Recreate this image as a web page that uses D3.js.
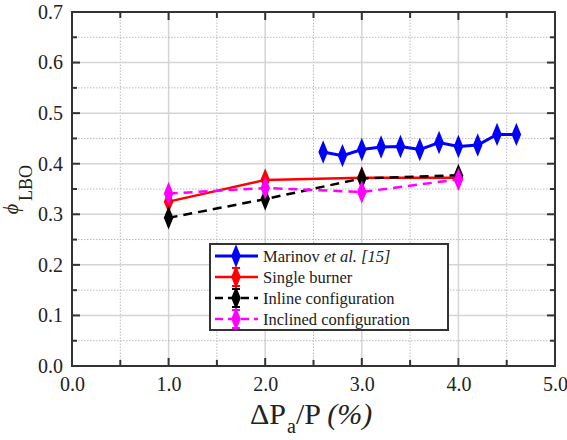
<!DOCTYPE html>
<html>
<head>
<meta charset="utf-8">
<script src="https://cdn.jsdelivr.net/npm/d3@7"></script>
<style>
  body { margin: 0; background: #fff; }
  svg, svg text { font-family: "Liberation Serif", "Times New Roman", "DejaVu Serif", serif !important; }
</style>
</head>
<body>
<div id="chart"></div>
<script>
// chart size
var width = 567, height = 440;
var margin = {top: 12, right: 12, bottom: 74, left: 72};
var serif = "'Liberation Serif', 'Times New Roman', serif";

// data
var marinovX = [2.6, 2.8, 3.0, 3.2, 3.4, 3.6, 3.8, 4.0, 4.2, 4.4, 4.6];
var marinovY = [0.423, 0.416, 0.428, 0.433, 0.434, 0.428, 0.442, 0.434, 0.437, 0.458, 0.458];
var burnerX = [1.0, 2.0, 3.0, 4.0];
var singleY = [0.325, 0.368, 0.372, 0.372];
var inlineY = [0.293, 0.330, 0.371, 0.377];
var inclinedY = [0.341, 0.352, 0.344, 0.369];
var seriesNames = ["Marinov", "Single burner", "Inline configuration", "Inclined configuration"];
var xTicks = [0, 1, 2, 3, 4, 5];
var yTicks = [0, 0.1, 0.2, 0.3, 0.4, 0.5, 0.6, 0.7];

var series = [
  {name: seriesNames[0], xs: marinovX, ys: marinovY, color: "#0000ff", dash: null, width: 3, err: false},
  {name: seriesNames[1], xs: burnerX, ys: singleY, color: "#ff0000", dash: null, width: 2.5, err: true},
  {name: seriesNames[2], xs: burnerX, ys: inlineY, color: "#000000", dash: "9,6", width: 2.5, err: true},
  {name: seriesNames[3], xs: burnerX, ys: inclinedY, color: "#ff00ff", dash: "9,6", width: 2.5, err: true}
];

var svg = d3.select("#chart").append("svg")
    .attr("width", width)
    .attr("height", height)
    .attr("font-family", serif);

var x = d3.scaleLinear().domain([0, 5]).range([margin.left, width - margin.right]);
var y = d3.scaleLinear().domain([0, 0.7]).range([height - margin.bottom, margin.top]);

var x0 = x(0), x1 = x(5), y0 = y(0), y1 = y(0.7);

// grid: solid at majors, dotted at minors
var grid = svg.append("g");
d3.range(0.5, 5, 0.5).forEach(function(v) {
  var major = Math.abs(v - Math.round(v)) < 1e-6;
  grid.append("line")
    .attr("x1", x(v)).attr("x2", x(v)).attr("y1", y0).attr("y2", y1)
    .attr("stroke", major ? "#d4d4d4" : "#bbbbbb")
    .attr("stroke-width", major ? 1.5 : 1)
    .attr("stroke-dasharray", major ? null : "1.5,1.5");
});
d3.range(0.05, 0.7, 0.05).forEach(function(v) {
  var major = Math.abs(v * 10 - Math.round(v * 10)) < 1e-6;
  grid.append("line")
    .attr("x1", x0).attr("x2", x1).attr("y1", y(v)).attr("y2", y(v))
    .attr("stroke", major ? "#d4d4d4" : "#bbbbbb")
    .attr("stroke-width", major ? 1.5 : 1)
    .attr("stroke-dasharray", major ? null : "1.5,1.5");
});

// axes with inward ticks
var xAxis = d3.axisBottom(x).tickValues(xTicks).tickFormat(d3.format(".1f")).tickSize(0).tickPadding(11);
var yAxis = d3.axisLeft(y).tickValues(yTicks).tickFormat(d3.format(".1f")).tickSize(0).tickPadding(9);

var gx = svg.append("g").attr("transform", "translate(0," + y0 + ")").call(xAxis);
var gy = svg.append("g").attr("transform", "translate(" + x0 + ",0)").call(yAxis);
[gx, gy].forEach(function(g) {
  g.attr("font-family", serif);
  g.select(".domain").remove();
  g.selectAll("text").attr("font-size", 20).attr("fill", "#222");
});
gx.selectAll("text").attr("dy", "0.71em");

var ticks = svg.append("g").attr("stroke", "#333").attr("stroke-width", 2);
d3.range(0.5, 5, 0.5).forEach(function(v) {
  var major = Math.abs(v - Math.round(v)) < 1e-6;
  var len = major ? 8 : 6;
  ticks.append("line").attr("x1", x(v)).attr("x2", x(v)).attr("y1", y0).attr("y2", y0 - len);
  ticks.append("line").attr("x1", x(v)).attr("x2", x(v)).attr("y1", y1).attr("y2", y1 + len);
});
d3.range(0.05, 0.7, 0.05).forEach(function(v) {
  var major = Math.abs(v * 10 - Math.round(v * 10)) < 1e-6;
  var len = major ? 8 : 5;
  ticks.append("line").attr("x1", x0).attr("x2", x0 + len).attr("y1", y(v)).attr("y2", y(v));
  ticks.append("line").attr("x1", x1).attr("x2", x1 - len).attr("y1", y(v)).attr("y2", y(v));
});

svg.append("rect")
  .attr("x", x0).attr("y", y1)
  .attr("width", x1 - x0).attr("height", y0 - y1)
  .attr("fill", "none").attr("stroke", "#333").attr("stroke-width", 2);

// diamond marker
var diamond = d3.symbol().type(d3.symbolDiamond).size(110);

function drawSeries(s) {
  var pts = s.xs.map(function(v, i) { return [v, s.ys[i]]; });
  var g = svg.append("g");
  g.append("path")
    .datum(pts)
    .attr("d", d3.line().x(function(d) { return x(d[0]); }).y(function(d) { return y(d[1]); }))
    .attr("fill", "none")
    .attr("stroke", s.color)
    .attr("stroke-width", s.width)
    .attr("stroke-dasharray", s.dash);
  g.selectAll("path.m")
    .data(pts)
    .enter().append("path")
    .attr("class", "m")
    .attr("d", diamond)
    .attr("transform", function(d) { return "translate(" + x(d[0]) + "," + y(d[1]) + ") scale(0.85,1.2)"; })
    .attr("fill", s.color);
}
series.forEach(drawSeries);

// legend
var lx = 210, ly = 244, lw = 238, lh = 86;
var legend = svg.append("g");
legend.append("rect")
  .attr("x", lx).attr("y", ly).attr("width", lw).attr("height", lh)
  .attr("fill", "#fff").attr("stroke", "#333").attr("stroke-width", 2);

var rowY = [256, 277, 298, 319];
series.forEach(function(s, i) {
  var ry = rowY[i];
  legend.append("line")
    .attr("x1", lx + 5).attr("x2", lx + 48).attr("y1", ry).attr("y2", ry)
    .attr("stroke", s.color).attr("stroke-width", s.width)
    .attr("stroke-dasharray", s.dash ? "8,5" : null);
  if (s.err) {
    var eb = legend.append("g").attr("stroke", s.color).attr("stroke-width", 2);
    eb.append("line").attr("x1", lx + 26).attr("x2", lx + 26).attr("y1", ry - 9).attr("y2", ry + 9);
    eb.append("line").attr("x1", lx + 22).attr("x2", lx + 30).attr("y1", ry - 9).attr("y2", ry - 9);
    eb.append("line").attr("x1", lx + 22).attr("x2", lx + 30).attr("y1", ry + 9).attr("y2", ry + 9);
  }
  legend.append("path")
    .attr("d", diamond)
    .attr("transform", "translate(" + (lx + 26) + "," + ry + ") scale(0.85,1.2)")
    .attr("fill", s.color);
  var t = legend.append("text")
    .attr("x", lx + 53).attr("y", ry + 6)
    .attr("font-size", 16.5).attr("fill", "#222");
  if (i === 0) {
    t.append("tspan").text("Marinov ");
    t.append("tspan").attr("font-style", "italic").text("et al. [15]");
  } else {
    t.text(s.name);
  }
});

// axis titles
var xl = svg.append("text")
  .attr("x", 250).attr("y", 424)
  .attr("font-size", 30).attr("fill", "#222");
xl.append("tspan").text("ΔP");
xl.append("tspan").attr("font-size", 20).attr("dy", 9).attr("dx", 1).text("a");
xl.append("tspan").attr("dy", -9).text("/P ");
xl.append("tspan").attr("font-style", "italic").text("(%)");

svg.append("text")
  .attr("transform", "translate(18,209) rotate(-90)")
  .attr("text-anchor", "middle")
  .attr("font-size", 20).attr("font-style", "italic").attr("fill", "#222")
  .text("ϕ");
svg.append("text")
  .attr("transform", "translate(32,183) rotate(-90)")
  .attr("text-anchor", "middle")
  .attr("font-size", 18).attr("fill", "#222")
  .text("LBO");
</script>
</body>
</html>
